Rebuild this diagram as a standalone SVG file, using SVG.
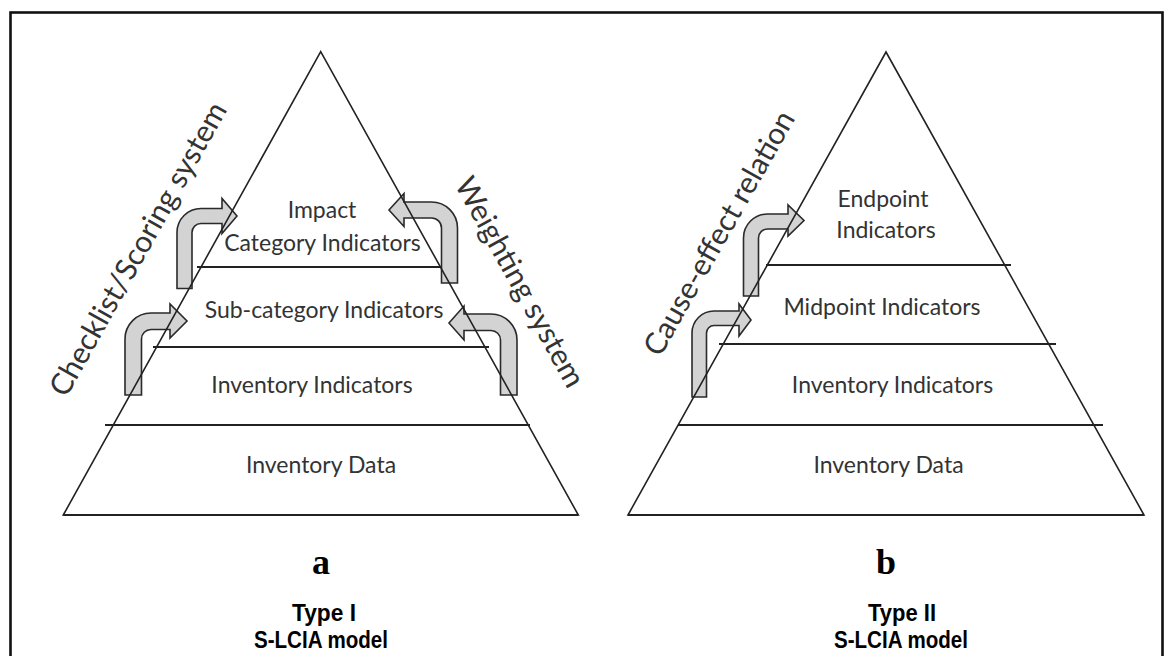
<svg xmlns="http://www.w3.org/2000/svg" width="1174" height="656" viewBox="0 0 1174 656">
  <style>
    .edge { fill: none; stroke: #222; stroke-width: 1.6; stroke-linejoin: miter; }
    .tier { fill: none; stroke: #222; stroke-width: 2.2; }
    .bend { fill: #d3d3d3; stroke: #2a2a2a; stroke-width: 1.6; stroke-linejoin: miter; }
    .lvl { font-family: Lato, "Noto Sans", sans-serif; font-size: 23px; fill: #333; text-anchor: middle; }
    .side { font-family: Lato, "Noto Sans", sans-serif; font-size: 30px; fill: #333; text-anchor: middle; }
    .tag { font-family: "Liberation Serif", "Times New Roman", serif; font-size: 36px; font-weight: bold; fill: #000; text-anchor: middle; }
    .cap { font-family: "Liberation Sans", Arial, sans-serif; font-size: 24px; font-weight: bold; fill: #000; text-anchor: middle; }
  </style>

  <rect width="1174" height="656" fill="#fff"/>
  <rect x="10.5" y="12.5" width="1152" height="680" fill="none" stroke="#111" stroke-width="2.6"/>

  <!-- bent arrows between tiers -->
  <g id="connectors">
    <path id="a-left-low" class="bend" d="M125,395 L125,339 A26,26 0 0 1 151,313 L170,313 L170,304 L187,321 L170,338 L170,329.5 L151,329.5 A9.5,9.5 0 0 0 141.5,339 L141.5,395 Z"/>
    <path id="a-left-high" class="bend" d="M177,288.5 L177,232.5 A24,24 0 0 1 201,208.5 L222,208.5 L222,198.5 L237,216 L222,233.5 L222,223.5 L201,223.5 A9,9 0 0 0 192,232.5 L192,288.5 Z"/>
    <path id="a-right-high" class="bend" d="M457.5,283 L457.5,228 A26,26 0 0 0 431.5,202 L404,202 L404,193.5 L389,210 L404,226.5 L404,218 L431.5,218 A10,10 0 0 1 441.5,228 L441.5,283 Z"/>
    <path id="a-right-low" class="bend" d="M517,395 L517,340 A26,26 0 0 0 491,314 L464,314 L464,306 L449,323 L464,340 L464,330.5 L491,330.5 A9.5,9.5 0 0 1 500.5,340 L500.5,395 Z"/>
    <path id="b-low" class="bend" d="M692,397 L692,333 A22,22 0 0 1 714,311 L739,311 L739,304 L751,320 L739,336 L739,325.5 L714,325.5 A7.5,7.5 0 0 0 706.5,333 L706.5,397 Z"/>
    <path id="b-high" class="bend" d="M743.5,296 L743.5,238 A24,24 0 0 1 767.5,214 L788,214 L788,205 L804,220.5 L788,236 L788,229 L767.5,229 A9,9 0 0 0 758.5,238 L758.5,296 Z"/>
  </g>

  <!-- Type I pyramid -->
  <g id="pyramid-a">
    <path class="edge" d="M63.3,515 L320.7,51.7 L578.3,515 Z"/>
    <line class="tier" x1="197" y1="267" x2="441" y2="267"/>
    <line class="tier" x1="153" y1="347" x2="489" y2="347"/>
    <line class="tier" x1="105" y1="425" x2="530" y2="425"/>
    <line class="tier" x1="63.3" y1="515" x2="578.3" y2="515"/>
  </g>
  <g id="a-impact">
    <text class="lvl" x="322" y="218">Impact</text>
    <text class="lvl" x="322.5" y="251">Category Indicators</text>
  </g>
  <g id="a-subcategory"><text class="lvl" x="324" y="318">Sub-category Indicators</text></g>
  <g id="a-inventory-ind"><text class="lvl" x="312" y="393">Inventory Indicators</text></g>
  <g id="a-inventory-data"><text class="lvl" x="321" y="473">Inventory Data</text></g>
  <g id="a-scoring"><text class="side" transform="translate(147,254) rotate(-60.8)">Checklist/Scoring system</text></g>
  <g id="a-weighting"><text class="side" transform="translate(511,287) rotate(61)">Weighting system</text></g>

  <!-- Type II pyramid -->
  <g id="pyramid-b">
    <path class="edge" d="M628,515 L886,52 L1144,515 Z"/>
    <line class="tier" x1="766" y1="265" x2="1011" y2="265"/>
    <line class="tier" x1="719" y1="344" x2="1056" y2="344"/>
    <line class="tier" x1="678" y1="425" x2="1103" y2="425"/>
    <line class="tier" x1="628" y1="515" x2="1144" y2="515"/>
  </g>
  <g id="b-endpoint">
    <text class="lvl" x="883" y="207">Endpoint</text>
    <text class="lvl" x="886" y="238">Indicators</text>
  </g>
  <g id="b-midpoint"><text class="lvl" x="882" y="315">Midpoint Indicators</text></g>
  <g id="b-inventory-ind"><text class="lvl" x="892.5" y="393">Inventory Indicators</text></g>
  <g id="b-inventory-data"><text class="lvl" x="888.5" y="473">Inventory Data</text></g>
  <g id="b-cause"><text class="side" transform="translate(728,238) rotate(-60.5)">Cause-effect relation</text></g>

  <!-- panel captions -->
  <g id="caption-a">
    <text class="tag" x="321" y="574">a</text>
    <text class="cap" x="324" y="621" textLength="64" lengthAdjust="spacingAndGlyphs">Type I</text>
    <text class="cap" x="321" y="648" textLength="134" lengthAdjust="spacingAndGlyphs">S-LCIA model</text>
  </g>
  <g id="caption-b">
    <text class="tag" x="886" y="574">b</text>
    <text class="cap" x="902" y="621" textLength="68" lengthAdjust="spacingAndGlyphs">Type II</text>
    <text class="cap" x="901" y="648" textLength="134" lengthAdjust="spacingAndGlyphs">S-LCIA model</text>
  </g>
</svg>
